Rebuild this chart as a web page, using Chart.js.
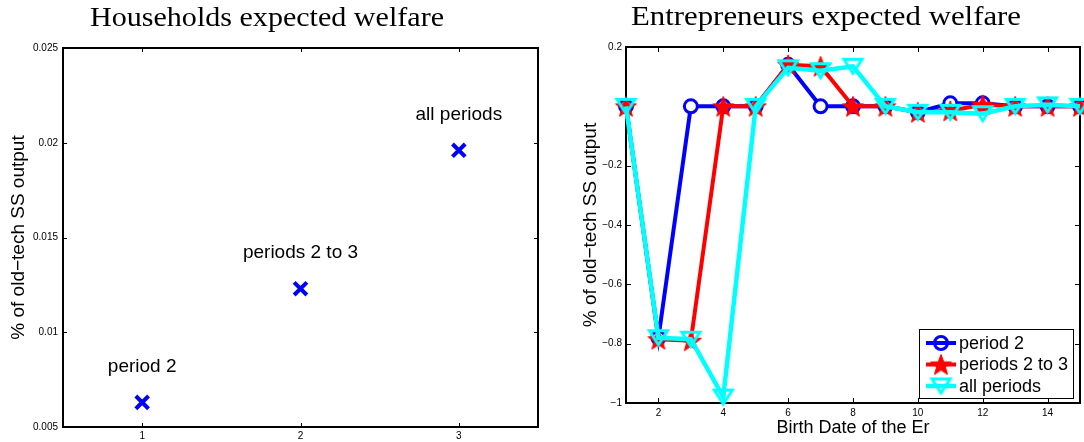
<!DOCTYPE html>
<html>
<head>
<meta charset="utf-8">
<script src="https://cdn.jsdelivr.net/npm/chart.js@4.4.1/dist/chart.umd.min.js"></script>
<style>
  html, body { margin: 0; padding: 0; background: #fff; width: 1084px; height: 442px; overflow: hidden; }
  canvas { position: absolute; top: 0; }
  #households { left: 0; }
  #entrepreneurs { left: 545px; }
</style>
</head>
<body>
<canvas id="households" width="545" height="442"></canvas>
<canvas id="entrepreneurs" width="539" height="442"></canvas>
<script>
// ---- Households panel data ----
const hhPeriods = [1, 2, 3];
const hhWelfare = [0.0063, 0.0123, 0.0196];
const hhPointLabels = ['period 2', 'periods 2 to 3', 'all periods'];
const hhXTicks = [1, 2, 3];
const hhXTickLabels = ['1', '2', '3'];
const hhYTicks = [0.005, 0.01, 0.015, 0.02, 0.025];
const hhYTickLabels = ['0.005', '0.01', '0.015', '0.02', '0.025'];

// ---- Entrepreneurs panel data ----
const birthDates = [1, 2, 3, 4, 5, 6, 7, 8, 9, 10, 11, 12, 13, 14, 15];
const welfarePeriod2 = [0, -0.78, 0, 0, 0, 0.14, 0, 0, 0, -0.02, 0.01, 0.01, 0, 0, 0];
const welfarePeriods2to3 = [0, -0.785, -0.79, 0, 0, 0.14, 0.135, 0, 0, -0.02, -0.015, 0.005, 0, 0, 0];
const welfareAllPeriods = [0, -0.78, -0.785, -0.98, 0, 0.13, 0.12, 0.135, 0, -0.02, -0.02, -0.025, 0, 0.005, 0];
const seriesNames = ['period 2', 'periods 2 to 3', 'all periods'];
const enXTicks = [2, 4, 6, 8, 10, 12, 14];
const enXTickLabels = ['2', '4', '6', '8', '10', '12', '14'];
const enYTicks = [-1, -0.8, -0.6, -0.4, -0.2, 0, 0.2];
const enYTickLabels = ['\u22121', '\u22120.8', '\u22120.6', '\u22120.4', '\u22120.2', '', '0.2'];

const SANS = '"Liberation Sans", Arial, Helvetica, sans-serif';
const SERIF = '"Liberation Serif", "Times New Roman", serif';

// ---- marker images ----
function makeStar(outerR, innerR, color) {
  const size = Math.ceil(outerR * 2 + 4);
  const c = document.createElement('canvas');
  c.width = c.height = size;
  const g = c.getContext('2d');
  const cx = size / 2, cy = size / 2 + 1;
  g.beginPath();
  for (let k = 0; k < 10; k++) {
    const r = k % 2 ? innerR : outerR;
    const a = -Math.PI / 2 + k * Math.PI / 5;
    const px = cx + r * Math.cos(a), py = cy + r * Math.sin(a);
    if (k === 0) g.moveTo(px, py); else g.lineTo(px, py);
  }
  g.closePath();
  g.fillStyle = color;
  g.fill();
  g.lineWidth = 1;
  g.strokeStyle = color;
  g.stroke();
  return c;
}

function makeDownTriangle(w, h, lw, color) {
  const size = Math.ceil(Math.max(w, h) + lw * 3 + 2);
  const c = document.createElement('canvas');
  c.width = c.height = size;
  const g = c.getContext('2d');
  const cx = size / 2, cy = size / 2;
  g.beginPath();
  g.moveTo(cx - w / 2, cy - h / 2);
  g.lineTo(cx + w / 2, cy - h / 2);
  g.lineTo(cx, cy + h / 2);
  g.closePath();
  g.lineJoin = 'miter';
  g.lineWidth = lw;
  g.strokeStyle = color;
  g.stroke();
  return c;
}

const starMarker = makeStar(11, 4.6, '#ff0000');
const triMarker = makeDownTriangle(18, 14, 3, '#00ffff');

// ---- shared plugins ----
const panelTitle = {
  id: 'panelTitle',
  afterDraw(chart, args, opts) {
    const ctx = chart.ctx;
    ctx.save();
    ctx.font = '28px ' + SERIF;
    ctx.fillStyle = '#000';
    ctx.textAlign = 'left';
    ctx.textBaseline = 'alphabetic';
    const w = ctx.measureText(opts.text).width;
    ctx.translate(opts.centerX - opts.width / 2, opts.baseline);
    ctx.scale(opts.width / w, 1);
    ctx.fillText(opts.text, 0, 0);
    ctx.restore();
  }
};

const boxAxes = {
  id: 'boxAxes',
  beforeDatasetsDraw(chart, args, opts) {
    const {ctx, chartArea: a, scales: {x, y}} = chart;
    const len = opts.tickLength;
    ctx.save();
    ctx.strokeStyle = '#000';
    ctx.lineWidth = 1;
    ctx.beginPath();
    x.ticks.forEach(t => {
      const px = Math.round(x.getPixelForValue(t.value)) + 0.5;
      ctx.moveTo(px, a.bottom); ctx.lineTo(px, a.bottom - len);
      ctx.moveTo(px, a.top); ctx.lineTo(px, a.top + len);
    });
    y.ticks.forEach(t => {
      const py = Math.round(y.getPixelForValue(t.value)) + 0.5;
      ctx.moveTo(a.left, py); ctx.lineTo(a.left + len, py);
      ctx.moveTo(a.right, py); ctx.lineTo(a.right - len, py);
    });
    ctx.stroke();
    ctx.lineWidth = 2;
    ctx.strokeRect(a.left, a.top, a.right - a.left, a.bottom - a.top);
    ctx.restore();
  }
};

function fixedTicks(values) {
  return scale => { scale.ticks = values.map(v => ({value: v})); };
}

// axis boxes of fixed size that do not ask the layout for label overhang
function fixedBox(prop, size) {
  return scale => {
    scale[prop] = size;
    scale.paddingLeft = scale.paddingRight = scale.paddingTop = scale.paddingBottom = 0;
  };
}

// ---- Households panel ----
const pointLabels = {
  id: 'pointLabels',
  afterDatasetsDraw(chart, args, opts) {
    const ctx = chart.ctx;
    const meta = chart.getDatasetMeta(0);
    ctx.save();
    ctx.font = '19px ' + SANS;
    ctx.fillStyle = '#000';
    ctx.textAlign = 'center';
    ctx.textBaseline = 'middle';
    meta.data.forEach((el, i) => {
      ctx.fillText(opts.labels[i], el.x, el.y - opts.offset);
    });
    ctx.restore();
  }
};

new Chart(document.getElementById('households'), {
  type: 'scatter',
  data: {
    datasets: [{
      data: hhPeriods.map((p, i) => ({x: p, y: hhWelfare[i]})),
      pointStyle: 'crossRot',
      pointRadius: 9,
      pointBorderWidth: 4,
      pointBorderColor: '#0000ff',
      pointBackgroundColor: '#0000ff',
      showLine: false,
      clip: false
    }]
  },
  options: {
    responsive: false,
    animation: false,
    events: [],
    layout: {autoPadding: false, padding: {top: 48, right: 7, bottom: 0, left: 0}},
    plugins: {
      legend: {display: false},
      title: {display: false},
      tooltip: {enabled: false},
      panelTitle: {text: 'Households expected welfare', centerX: 267, width: 354, baseline: 26},
      boxAxes: {tickLength: 4},
      pointLabels: {labels: hhPointLabels, offset: 36}
    },
    scales: {
      x: {
        type: 'linear', min: 0.5, max: 3.5,
        grid: {display: false, drawTicks: false},
        border: {display: false},
        afterBuildTicks: fixedTicks(hhXTicks),
        afterFit: fixedBox('height', 15),
        ticks: {
          autoSkip: false, maxRotation: 0, padding: 3, color: '#000',
          font: {family: SANS, size: 10},
          callback: (v, i) => hhXTickLabels[i]
        }
      },
      y: {
        type: 'linear', min: 0.005, max: 0.025,
        grid: {display: false, drawTicks: false},
        border: {display: false},
        afterBuildTicks: fixedTicks(hhYTicks),
        afterFit: fixedBox('width', 63),
        title: {
          display: true, text: '% of old\u2212tech SS output', color: '#000',
          font: {family: SANS, size: 19}, padding: {top: 7, bottom: 0}
        },
        ticks: {
          autoSkip: false, padding: 5, color: '#000',
          font: {family: SANS, size: 10},
          callback: (v, i) => hhYTickLabels[i]
        }
      }
    }
  },
  plugins: [panelTitle, boxAxes, pointLabels]
});

// ---- Entrepreneurs panel ----
const seriesLegend = {
  id: 'seriesLegend',
  afterDatasetsDraw(chart, args, opts) {
    const {ctx, chartArea: a} = chart;
    const w = opts.width, h = opts.height;
    const left = a.right - opts.right - w;
    const top = a.bottom - opts.bottom - h;
    ctx.save();
    ctx.fillStyle = '#fff';
    ctx.fillRect(left, top, w, h);
    ctx.strokeStyle = '#000';
    ctx.lineWidth = 1;
    ctx.strokeRect(Math.round(left) + 0.5, Math.round(top) + 0.5, w, h);
    ctx.font = '18px ' + SANS;
    ctx.textAlign = 'left';
    ctx.textBaseline = 'middle';
    chart.data.datasets.forEach((ds, i) => {
      const cy = top + opts.firstRow + i * opts.rowGap;
      ctx.strokeStyle = ds.borderColor;
      ctx.lineWidth = ds.borderWidth;
      ctx.beginPath();
      ctx.moveTo(left + 7, cy);
      ctx.lineTo(left + 37, cy);
      ctx.stroke();
      ctx.strokeStyle = ds.pointBorderColor;
      ctx.fillStyle = 'rgba(0,0,0,0)';
      ctx.lineWidth = ds.pointBorderWidth;
      Chart.helpers.drawPoint(ctx, {
        pointStyle: ds.pointStyle, rotation: 0,
        radius: ds.pointRadius, borderWidth: ds.pointBorderWidth
      }, left + 22, cy);
      ctx.fillStyle = '#000';
      ctx.fillText(ds.label, left + 40, cy + 1);
    });
    ctx.restore();
  }
};

const toPoints = ys => birthDates.map((b, i) => ({x: b, y: ys[i]}));

new Chart(document.getElementById('entrepreneurs'), {
  type: 'line',
  data: {
    datasets: [
      {
        label: seriesNames[0],
        data: toPoints(welfarePeriod2),
        borderColor: '#0000ff', borderWidth: 4,
        pointStyle: 'circle', pointRadius: 6.5, pointBorderWidth: 3,
        pointBorderColor: '#0000ff', pointBackgroundColor: '#ffffff',
        tension: 0, clip: false, order: 3
      },
      {
        label: seriesNames[1],
        data: toPoints(welfarePeriods2to3),
        borderColor: '#ff0000', borderWidth: 4,
        pointStyle: starMarker, pointRadius: 11, pointBorderWidth: 1,
        pointBorderColor: '#ff0000', pointBackgroundColor: '#ff0000',
        tension: 0, clip: false, order: 2
      },
      {
        label: seriesNames[2],
        data: toPoints(welfareAllPeriods),
        borderColor: '#00ffff', borderWidth: 4.5,
        pointStyle: triMarker, pointRadius: 10, pointBorderWidth: 3,
        pointBorderColor: '#00ffff', pointBackgroundColor: 'rgba(0,0,0,0)',
        tension: 0, clip: false, order: 1
      }
    ]
  },
  options: {
    responsive: false,
    animation: false,
    events: [],
    layout: {autoPadding: false, padding: {top: 47, right: 4, bottom: 0, left: 0}},
    plugins: {
      legend: {display: false},
      title: {display: false},
      tooltip: {enabled: false},
      panelTitle: {text: 'Entrepreneurs expected welfare', centerX: 281, width: 390, baseline: 25},
      boxAxes: {tickLength: 5},
      seriesLegend: {width: 154, height: 69, right: 7, bottom: 5, firstRow: 14, rowGap: 21.5}
    },
    scales: {
      x: {
        type: 'linear', min: 1, max: 15,
        grid: {display: false, drawTicks: false},
        border: {display: false},
        afterBuildTicks: fixedTicks(enXTicks),
        afterFit: fixedBox('height', 39),
        title: {
          display: true, text: 'Birth Date of the Er', color: '#000',
          font: {family: SANS, size: 18}, padding: {top: 0, bottom: 3}
        },
        ticks: {
          autoSkip: false, maxRotation: 0, padding: 4, color: '#000',
          font: {family: SANS, size: 10},
          callback: (v, i) => enXTickLabels[i]
        }
      },
      y: {
        type: 'linear', min: -1, max: 0.2,
        grid: {display: false, drawTicks: false},
        border: {display: false},
        afterBuildTicks: fixedTicks(enYTicks),
        afterFit: fixedBox('width', 81),
        title: {
          display: true, text: '% of old\u2212tech SS output', color: '#000',
          font: {family: SANS, size: 19}, padding: {top: 34, bottom: 0}
        },
        ticks: {
          autoSkip: false, padding: 4, color: '#000',
          font: {family: SANS, size: 10},
          callback: (v, i) => enYTickLabels[i]
        }
      }
    }
  },
  plugins: [panelTitle, boxAxes, seriesLegend]
});
</script>
</body>
</html>
